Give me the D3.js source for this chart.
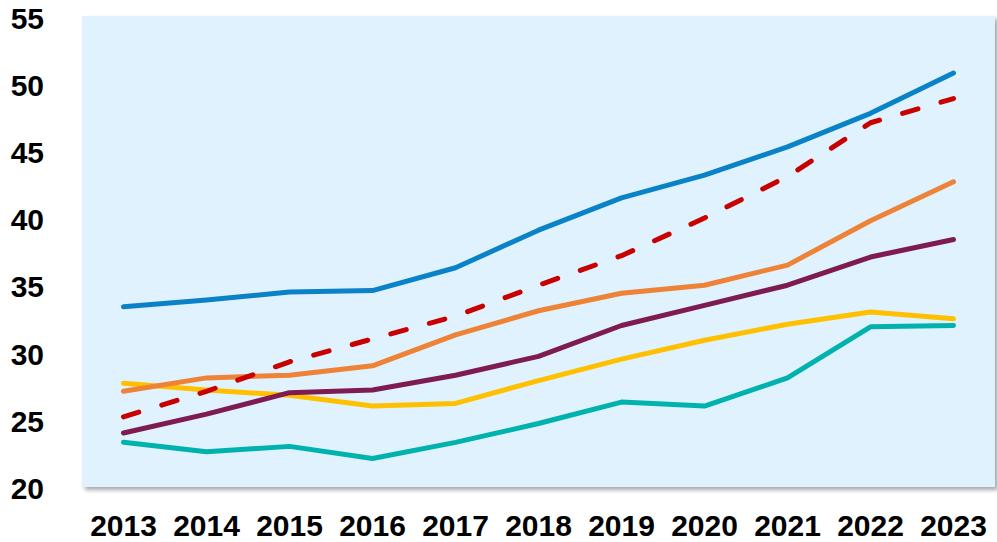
<!DOCTYPE html>
<html>
<head>
<meta charset="utf-8">
<script src="https://cdn.jsdelivr.net/npm/d3@7"></script>
<style>
  html, body { margin: 0; padding: 0; background: #ffffff; }
  svg { display: block; }
  text { font-family: "Liberation Sans", Arial, sans-serif; font-weight: bold; fill: #000; }
</style>
</head>
<body>
<svg id="chart" width="997" height="542"></svg>
<script>
// Years on the horizontal axis
const years = ["2013","2014","2015","2016","2017","2018","2019","2020","2021","2022","2023"];

// Vertical axis ticks
const yTicks = [20, 25, 30, 35, 40, 45, 50, 55];

// Series values, one array per line
const seriesBlue   = [33.5, 34.0, 34.6, 34.7, 36.4, 39.2, 41.6, 43.3, 45.4, 47.9, 50.9];
const seriesRed    = [25.3, 27.2, 29.4, 31.1, 32.8, 35.1, 37.3, 40.1, 43.2, 47.2, 49.0];
const seriesOrange = [27.2, 28.2, 28.4, 29.1, 31.4, 33.2, 34.5, 35.1, 36.6, 39.9, 42.8];
const seriesPurple = [24.1, 25.5, 27.1, 27.3, 28.4, 29.8, 32.1, 33.6, 35.1, 37.2, 38.5];
const seriesYellow = [27.8, 27.3, 26.9, 26.1, 26.3, 28.0, 29.6, 31.0, 32.2, 33.1, 32.6];
const seriesTeal   = [23.4, 22.7, 23.1, 22.2, 23.4, 24.8, 26.4, 26.1, 28.2, 32.0, 32.1];

// Drawing order (bottom to top) with styles
const series = [
  { values: seriesTeal,   color: "#00b2ae", dash: null },
  { values: seriesYellow, color: "#ffc000", dash: null },
  { values: seriesPurple, color: "#7d1b52", dash: null },
  { values: seriesOrange, color: "#ee8236", dash: null },
  { values: seriesBlue,   color: "#0a82c8", dash: null },
  { values: seriesRed,    color: "#c80000", dash: "16,24" }
];

const svg = d3.select("#chart");
const plot = { left: 82, right: 995, top: 16, bottom: 487 };

const x = d3.scaleBand().domain(years).range([plot.left, plot.right]).padding(0);
const y = d3.scaleLinear().domain([20, 55]).range([488, 18]);
const cx = d => x(d) + x.bandwidth() / 2;

// Soft shadow under the plot panel
const defs = svg.append("defs");
const f = defs.append("filter").attr("id", "panelShadow")
  .attr("x", "-5%").attr("y", "-5%").attr("width", "110%").attr("height", "115%");
f.append("feDropShadow")
  .attr("dx", 3).attr("dy", 3).attr("stdDeviation", 2)
  .attr("flood-color", "#000").attr("flood-opacity", 0.35);

svg.append("rect")
  .attr("x", plot.left).attr("y", plot.top)
  .attr("width", plot.right - plot.left).attr("height", plot.bottom - plot.top)
  .attr("fill", "#e0f2fd")
  .attr("filter", "url(#panelShadow)");

// Y axis labels
const yAxis = d3.axisLeft(y).tickValues(yTicks).tickSize(0).tickPadding(0);
const gy = svg.append("g").attr("transform", "translate(44,-0.5)").call(yAxis);
gy.select(".domain").remove();
gy.selectAll("text")
  .attr("font-size", 30).attr("font-weight", "bold")
  .attr("font-family", "Liberation Sans, Arial, sans-serif")
  .attr("fill", "#000").attr("dy", "0.36em");

// X axis labels
const xAxis = d3.axisBottom(x).tickSize(0).tickPadding(0);
const gx = svg.append("g").attr("transform", "translate(0,514)").call(xAxis);
gx.select(".domain").remove();
gx.selectAll("text")
  .attr("font-size", 30).attr("font-weight", "bold")
  .attr("font-family", "Liberation Sans, Arial, sans-serif")
  .attr("fill", "#000").attr("dy", "0.72em");

// Lines
const line = d3.line()
  .x((d, i) => cx(years[i]))
  .y(d => y(d));

svg.append("g").selectAll("path")
  .data(series)
  .join("path")
  .attr("d", s => line(s.values))
  .attr("fill", "none")
  .attr("stroke", s => s.color)
  .attr("stroke-width", 5)
  .attr("stroke-linejoin", "round")
  .attr("stroke-linecap", "round")
  .attr("stroke-dasharray", s => s.dash);
</script>
</body>
</html>
